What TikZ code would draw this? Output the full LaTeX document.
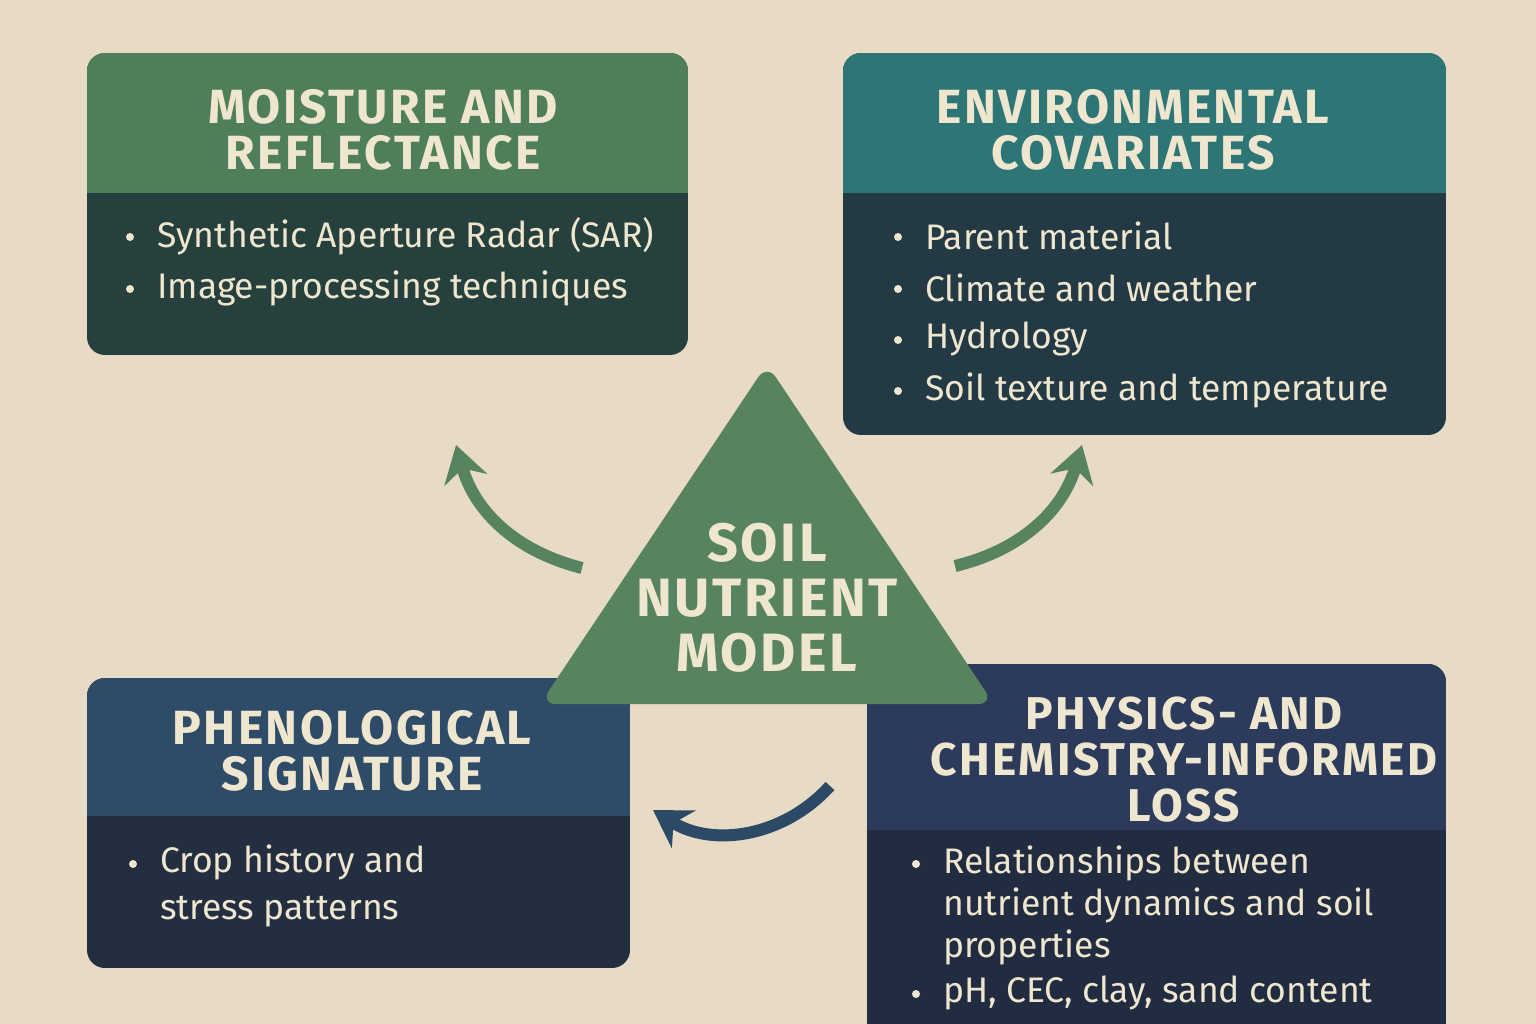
\documentclass[tikz,border=0pt]{standalone}
\usepackage{fontspec}
\setmainfont{Fira Sans}
\newfontfamily\hdrfamily{Fira Sans}[LetterSpace=5]
\usetikzlibrary{arrows.meta,positioning}

\definecolor{fundo}{HTML}{E7DBC5}
\definecolor{creme}{HTML}{EFE6CF}
\definecolor{verdecab}{HTML}{4F7E5A}
\definecolor{verdetri}{HTML}{578360}
\definecolor{tealcab}{HTML}{2E7676}
\definecolor{corpoA}{HTML}{26403D}
\definecolor{corpoB}{HTML}{233A44}
\definecolor{azulcab}{HTML}{2E4B67}
\definecolor{corpoC}{HTML}{232F41}
\definecolor{navycab}{HTML}{2C3B5B}
\definecolor{corpoD}{HTML}{222C40}
\definecolor{setaazul}{HTML}{2C4A66}

\begin{document}
\begin{tikzpicture} [x=1pt, y=-1pt, > = {Stealth[length=36pt,width=44pt]}]
            % Estilos
            \tikzstyle{header}=[text=creme, align=center, inner sep=0pt, font=\hdrfamily\bfseries\fontsize{48}{46}\selectfont]
            \tikzstyle{item}=[text=creme, anchor=west, align=left, inner sep=0pt, font=\fontsize{35.5}{47}\selectfont]
            \tikzstyle{bullet}=[circle, fill=creme, inner sep=0pt, minimum size=8pt]
            \tikzstyle{seta}=[->, line width=12pt]

            % Fundo
            \clip (0,0) rectangle (1536,1024);
            \fill[fundo] (0,0) rectangle (1536,1024);

            % Caixas
            \begin{scope}
                \clip[rounded corners=18pt] (87,53) rectangle (688,355);
                \fill[corpoA] (87,53) rectangle (688,355);
                \fill[verdecab] (87,53) rectangle (688,193);
            \end{scope}
            \begin{scope}
                \clip[rounded corners=18pt] (843,53) rectangle (1446,435);
                \fill[corpoB] (843,53) rectangle (1446,435);
                \fill[tealcab] (843,53) rectangle (1446,193);
            \end{scope}
            \begin{scope}
                \clip[rounded corners=18pt] (87,678) rectangle (630,968);
                \fill[corpoC] (87,678) rectangle (630,968);
                \fill[azulcab] (87,678) rectangle (630,816);
            \end{scope}
            \begin{scope}
                \clip[rounded corners=18pt] (867,664) rectangle (1446,1070);
                \fill[corpoD] (867,664) rectangle (1446,1070);
                \fill[navycab] (867,664) rectangle (1446,830);
            \end{scope}

            % Titulos
            \node[header] (moist) at (383,130) {MOISTURE AND\\REFLECTANCE};
            \node[header] (envir) at (1133,130) {ENVIRONMENTAL\\COVARIATES};
            \node[header] (pheno) at (352,751) {PHENOLOGICAL\\SIGNATURE};
            \node[header, font=\hdrfamily\bfseries\fontsize{46}{46}\selectfont] (phys) at (1184,760) {PHYSICS- AND\\CHEMISTRY-INFORMED\\LOSS};

            % Itens
            \node[bullet] (b1) at (130,237) {};
            \node[item] (sar) at (157,236) {Synthetic Aperture Radar (SAR)};
            \node[bullet] (b2) at (130,289) {};
            \node[item] (img) at (157,288) {Image-processing techniques};

            \node[bullet] (b3) at (898,237) {};
            \node[item] (parent) at (925,236) {Parent material};
            \node[bullet] (b4) at (898,289) {};
            \node[item] (clim) at (925,288) {Climate and weather};
            \node[bullet] (b5) at (898,340) {};
            \node[item] (hydro) at (925,339) {Hydrology};
            \node[bullet] (b6) at (898,391) {};
            \node[item] (text) at (925,390) {Soil texture and temperature};

            \node[bullet] (b7) at (133,864) {};
            \node[item] (crop) at (160,886) {Crop history and\\stress patterns};

            \node[bullet] (b8) at (916,864) {};
            \node[item, font=\fontsize{35.5}{42}\selectfont] (rel) at (943,905) {Relationships between\\nutrient dynamics and soil\\properties};
            \node[bullet] (b9) at (916,994) {};
            \node[item] (ph) at (943,993) {pH, CEC, clay, sand content};

            % Triangulo central
            \fill[verdetri, rounded corners=16pt] (767,364) -- (994,704) -- (540,704) -- cycle;
            \node[header, font=\hdrfamily\bfseries\fontsize{54}{55}\selectfont] (soil) at (767,598) {SOIL\\NUTRIENT\\MODEL};

            % Setas
            \coordinate (s1) at (582,568);
            \coordinate (t1) at (456,445);
            \coordinate (s2) at (955,566);
            \coordinate (t2) at (1082,445);
            \coordinate (s3) at (830,786);
            \coordinate (t3) at (653,810);
            \draw[seta, verdetri] (s1) to [bend left=30] (t1);
            \draw[seta, verdetri] (s2) to [bend right=30] (t2);
            \draw[seta, setaazul] (s3) to [bend left=40] (t3);
        \end{tikzpicture}
\end{document}
